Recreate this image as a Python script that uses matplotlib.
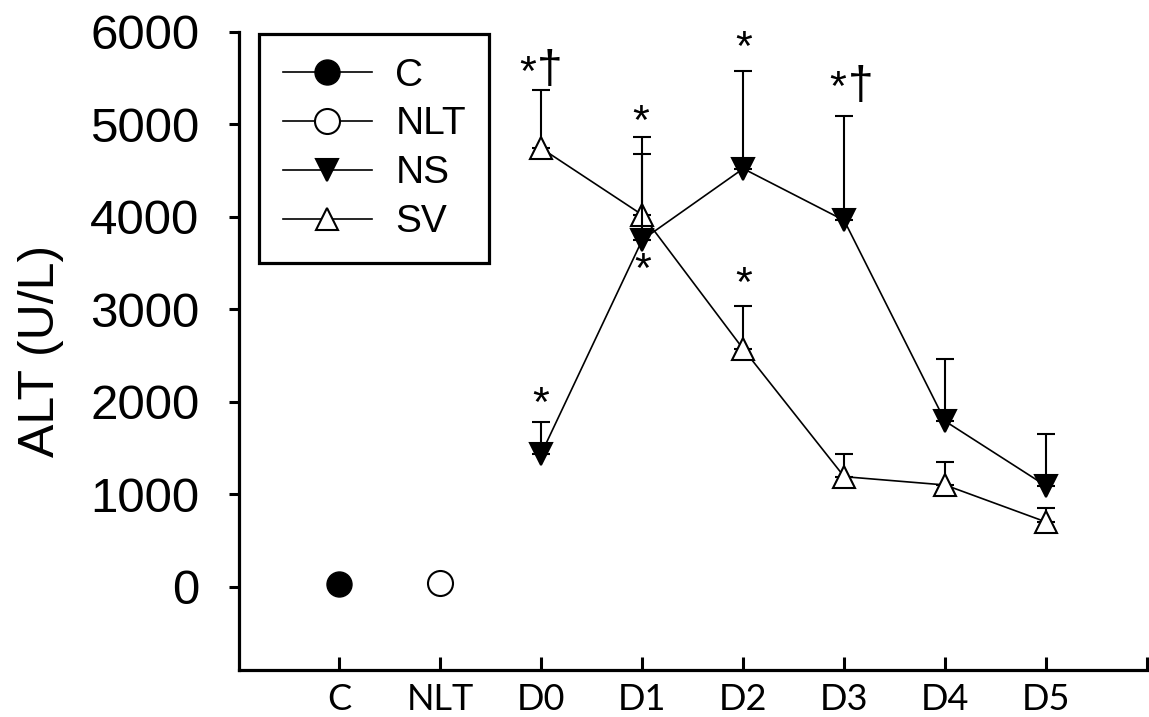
import matplotlib
matplotlib.use('Agg')
import matplotlib.pyplot as plt

# ---------------- data ----------------
categories = ['C', 'NLT', 'D0', 'D1', 'D2', 'D3', 'D4', 'D5']
c_value = [30]
nlt_value = [40]
ns_mean = [1440, 3750, 4520, 3960, 1790, 1090]
ns_sem = [345, 930, 1060, 1130, 670, 560]
sv_mean = [4740, 4020, 2570, 1190, 1100, 700]
sv_sem = [630, 845, 470, 250, 250, 155]
yticks = [0, 1000, 2000, 3000, 4000, 5000, 6000]

# significance marks: label, x (category units), y (U/L)
annot_labels = ['*', '\u2020', '*', '*', '*', '*', '*', '\u2020', '*']
annot_x = [1.863, 2.085, 2.986, 3.002, 4.007, 4.007, 4.936, 5.160, 1.998]
annot_y = [5543, 5575, 5010, 3416, 5813, 3262, 5381, 5400, 1964]

plt.rcParams['font.family'] = ['Liberation Sans', 'DejaVu Sans']

W, H = 1149, 717
fig = plt.figure(figsize=(W / 100, H / 100), dpi=100)
left_px, right_px, top_px, bottom_px = 238.5, 1147, 31.7, 670
ax = fig.add_axes([left_px / W, (H - bottom_px) / H,
                   (right_px - left_px) / W, (bottom_px - top_px) / H])

x_c = [0]
x_nlt = [1]
x_days = list(range(2, 8))

lw = 1.2
ms_tri = 16.5
ms_circ = 18

# SV series
ax.errorbar(x_days, sv_mean, yerr=[[0] * len(sv_sem), sv_sem], fmt='none',
            ecolor='black', elinewidth=1.5, capsize=6.8, capthick=1.5, zorder=2)
ax.plot(x_days, sv_mean, '-', color='black', lw=lw, marker='^', ms=ms_tri,
        mfc='white', mec='black', mew=1.5, label='SV', zorder=3)
# NS series
ax.errorbar(x_days, ns_mean, yerr=[[0] * len(ns_sem), ns_sem], fmt='none',
            ecolor='black', elinewidth=1.5, capsize=6.8, capthick=1.5, zorder=4)
ax.plot(x_days, ns_mean, '-', color='black', lw=lw, marker='v', ms=ms_tri,
        mfc='black', mec='black', mew=1.5, label='NS', zorder=5)
# C and NLT
ax.plot(x_c, c_value, '-', color='black', lw=lw, marker='o', ms=ms_circ,
        mfc='black', mec='black', label='C', zorder=5)
ax.plot(x_nlt, nlt_value, '-', color='black', lw=lw, marker='o', ms=ms_circ,
        mfc='white', mec='black', mew=1.5, label='NLT', zorder=5)

for lab, xx, yy in zip(annot_labels, annot_x, annot_y):
    fs = 31 if lab == '*' else 33
    ax.text(xx, yy, lab, ha='center', va='center', fontsize=fs,
            color='black', clip_on=False, zorder=6)

ax.set_xlim(-1, 8)
ax.set_ylim(-900, 6000)
ax.set_xticks(list(range(len(categories))) + [8])
ax.set_xticklabels(categories + [''], fontfamily='Lato', fontsize=26)
for t in ax.get_xticklabels():
    t.set_va('baseline')
ax.set_yticks(yticks)
ax.set_yticklabels([str(v) for v in yticks], fontsize=35.5)

for s in ['top', 'right']:
    ax.spines[s].set_visible(False)
for s in ['left', 'bottom']:
    ax.spines[s].set_linewidth(2.3)

ax.tick_params(axis='x', direction='in', length=9.5, width=2.2, pad=28.5)
ax.tick_params(axis='y', direction='out', length=7.2, width=2.2, pad=21)

ax.set_ylabel('ALT (U/L)', fontsize=36, va='center')
ax.yaxis.set_label_coords((41 - left_px) / (right_px - left_px), 0.5)

handles, labels = ax.get_legend_handles_labels()
order = ['C', 'NLT', 'NS', 'SV']
hmap = dict(zip(labels, handles))
leg = ax.legend([hmap[k] for k in order], order, loc='upper left',
                bbox_to_anchor=(259.3 / W, (H - 34.3) / H),
                bbox_transform=fig.transFigure, borderaxespad=0,
                fontsize=28, frameon=True, fancybox=False, shadow=False,
                edgecolor='black', framealpha=1, handlelength=2.3,
                handletextpad=0.6, labelspacing=0.33, borderpad=0.6,
                numpoints=1)
leg.get_frame().set_linewidth(2.3)

fig.savefig('out.png', dpi=100)
